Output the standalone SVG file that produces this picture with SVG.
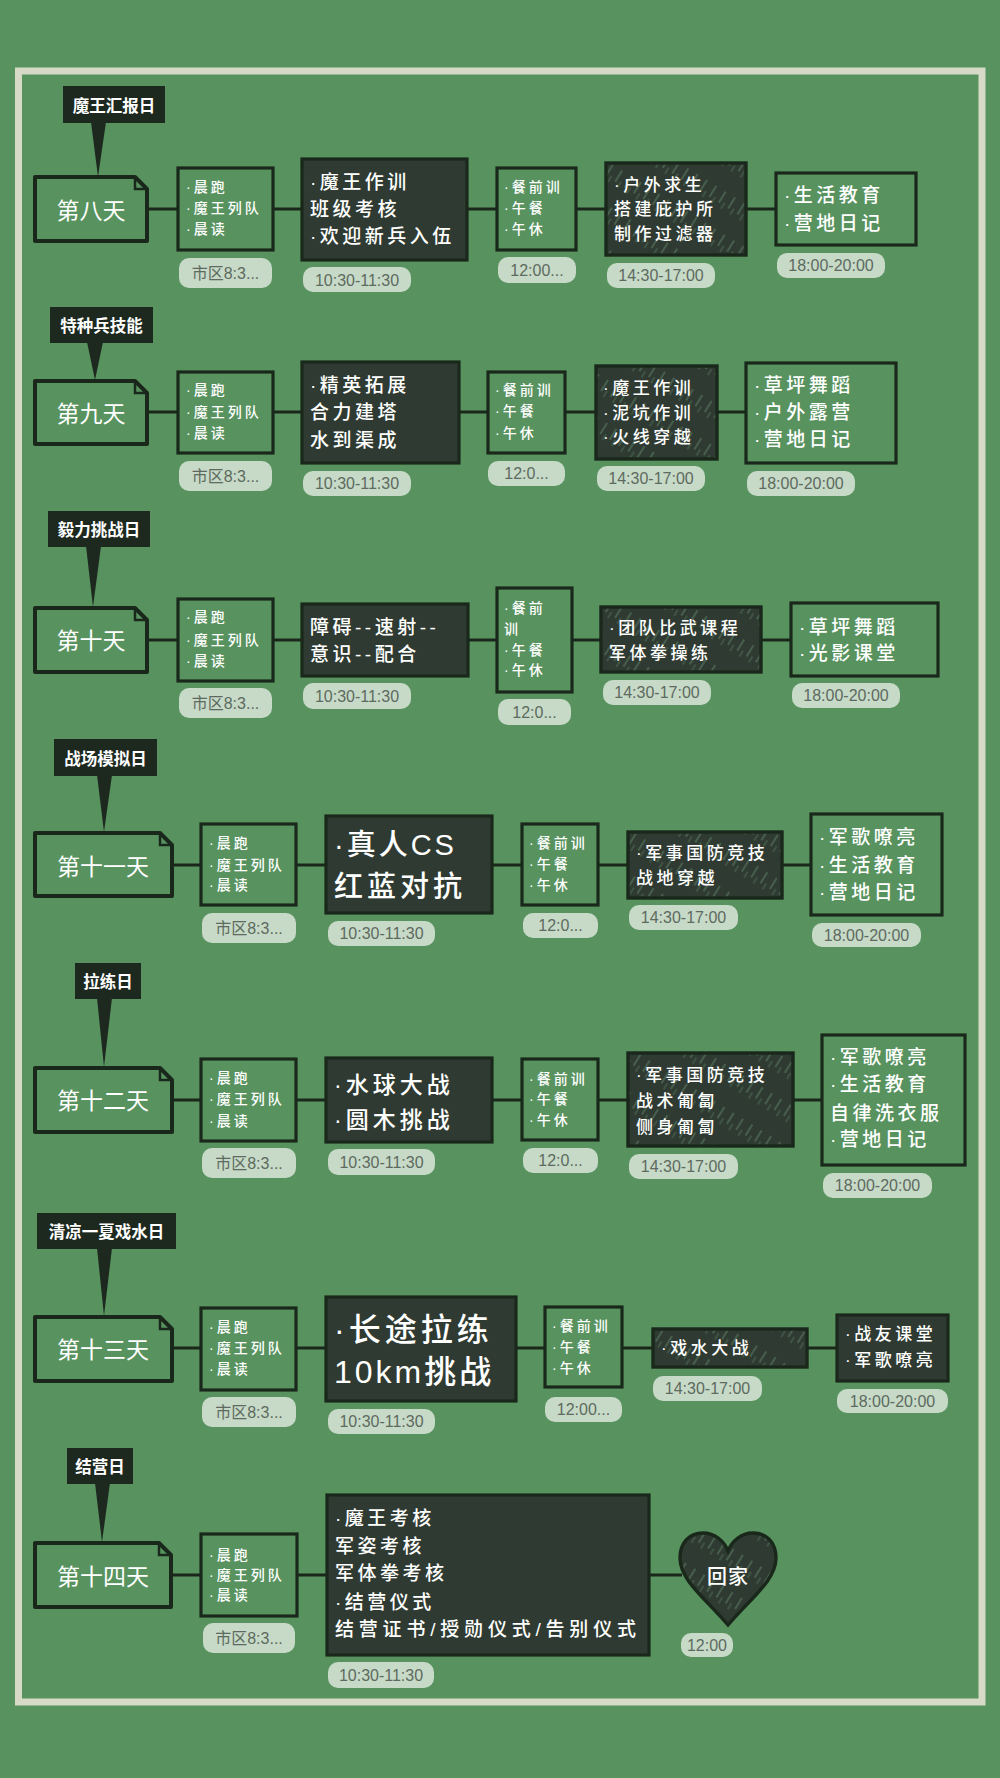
<svg xmlns="http://www.w3.org/2000/svg" width="1000" height="1778" viewBox="0 0 1000 1778">
<defs>
<pattern id="hatch" patternUnits="userSpaceOnUse" width="11" height="37" patternTransform="rotate(32)">
<line x1="2" y1="0" x2="2" y2="37" stroke="#7fb088" stroke-width="1" stroke-dasharray="13 24" opacity="0.6"/>
<line x1="7" y1="10" x2="7" y2="37" stroke="#7fb088" stroke-width="0.9" stroke-dasharray="7 30" opacity="0.45"/>
</pattern>
<style>
.bg{fill:#58935f}
.frame{fill:none;stroke:#d6dac6;stroke-width:7}
.lbl{fill:#1d291f}
.lt{font-family:"Noto Sans CJK SC","Noto Sans",sans-serif;font-weight:bold;font-size:16.5px;fill:#ffffff;text-anchor:middle;dominant-baseline:central}
.day{fill:#58935f;stroke:#1a281c;stroke-width:4;stroke-linejoin:round}
.fold{fill:none;stroke:#1a281c;stroke-width:2.5}
.dt{font-family:"Noto Sans CJK SC","Noto Sans",sans-serif;font-size:23px;fill:#ffffff;text-anchor:middle;dominant-baseline:central}
.lb{fill:#58935f;stroke:#1a281c;stroke-width:3.2}
.db{fill:#2f3b32;stroke:#1a281c;stroke-width:3.2}
.hb{fill:url(#hatch);stroke:#1a281c;stroke-width:3.4}
.hf{fill:#2f3b32}
.t{font-family:"Liberation Sans","Noto Sans CJK SC",sans-serif;fill:#ffffff;dominant-baseline:central;font-weight:500}
.s{font-size:14px;letter-spacing:3px}
.m{font-size:17px;letter-spacing:3.5px}
.n{font-size:19px;letter-spacing:3.5px}
.pill{fill:#c6dac7}
.pt{font-family:"Liberation Sans","Noto Sans CJK SC",sans-serif;font-size:16px;fill:#5e6a5f;text-anchor:middle;dominant-baseline:central}
.cn{stroke:#1a281c;stroke-width:3;fill:none}
</style>
</defs>
<rect class="bg" x="0" y="0" width="1000" height="1778"/>
<rect class="frame" x="18.5" y="71" width="963.5" height="1631"/>

<g id="connectors">
<path class="cn" d="M147,209H178M273,209H302M467,209H497M576,209H606M746,209H776"/>
<path class="cn" d="M147,412H178M273,412H302M459,412H488M565,412H596M717,412H746"/>
<path class="cn" d="M147,640H178M273,640H302M468,640H497M572,640H601M761,640H791"/>
<path class="cn" d="M172,865H201M296,865H326M492,865H522M598,865H628M782,865H811"/>
<path class="cn" d="M172,1100H201M296,1100H326M492,1100H522M598,1100H628M793,1100H822"/>
<path class="cn" d="M172,1348H201M296,1348H326M516,1348H545M622,1348H653M807,1348H837"/>
<path class="cn" d="M171,1575H201M297,1575H327M649,1575H682"/>
</g>

<!-- Row 1: 第八天 -->
<g id="label8"><rect class="lbl" x="63" y="86" width="102" height="37"/><polygon class="lbl" points="91,122 106,122 98,177"/><text class="lt" x="114" y="105">魔王汇报日</text></g>
<g id="day8"><path class="day" d="M35,177H135L147,189V241H35Z"/><path class="fold" d="M135,177V189H147"/><text class="dt" x="91" y="209">第八天</text></g>
<g id="d8b1"><rect class="lb" x="178" y="168" width="95" height="82"/><text class="t s" x="186" y="187">·晨跑</text><text class="t s" x="186" y="208">·魔王列队</text><text class="t s" x="186" y="229">·晨读</text>
<rect class="pill" x="179" y="258" width="93" height="30" rx="10"/><text class="pt" x="225.5" y="273">市区8:3...</text></g>
<g id="d8b2"><rect class="db" x="302" y="159" width="165" height="101"/><text class="t n" x="310" y="182">·魔王作训</text><text class="t n" x="310" y="209">班级考核</text><text class="t n" x="310" y="236">·欢迎新兵入伍</text>
<rect class="pill" x="303" y="267" width="108" height="25" rx="10"/><text class="pt" x="357" y="280">10:30-11:30</text></g>
<g id="d8b3"><rect class="lb" x="497" y="168" width="79" height="82"/><text class="t s" x="504" y="187">·餐前训</text><text class="t s" x="504" y="208">·午餐</text><text class="t s" x="504" y="229">·午休</text>
<rect class="pill" x="498" y="257" width="78" height="26" rx="10"/><text class="pt" x="537" y="270">12:00...</text></g>
<g id="d8b4"><rect class="hf" x="606" y="163" width="140" height="92"/><rect class="hb" x="606" y="163" width="140" height="92"/><text class="t m" x="614" y="185">·户外求生</text><text class="t m" x="614" y="209">搭建庇护所</text><text class="t m" x="614" y="234">制作过滤器</text>
<rect class="pill" x="607" y="263" width="108" height="25" rx="10"/><text class="pt" x="661" y="275.5">14:30-17:00</text></g>
<g id="d8b5"><rect class="lb" x="776" y="173" width="140" height="72"/><text class="t n" x="784" y="195">·生活教育</text><text class="t n" x="784" y="223">·营地日记</text>
<rect class="pill" x="777" y="253" width="108" height="25" rx="10"/><text class="pt" x="831" y="265.5">18:00-20:00</text></g>

<!-- Row 2: 第九天 -->
<g id="label9"><rect class="lbl" x="50" y="307" width="103" height="36"/><polygon class="lbl" points="87,342 103,342 95,380"/><text class="lt" x="101.5" y="325">特种兵技能</text></g>
<g id="day9"><path class="day" d="M35,381H135L147,393V444H35Z"/><path class="fold" d="M135,381V393H147"/><text class="dt" x="91" y="412">第九天</text></g>
<g id="d9b1"><rect class="lb" x="178" y="372" width="95" height="81"/><text class="t s" x="186" y="390">·晨跑</text><text class="t s" x="186" y="412">·魔王列队</text><text class="t s" x="186" y="433">·晨读</text>
<rect class="pill" x="179" y="461" width="93" height="30" rx="10"/><text class="pt" x="225.5" y="476">市区8:3...</text></g>
<g id="d9b2"><rect class="db" x="302" y="362" width="157" height="101"/><text class="t n" x="310" y="385">·精英拓展</text><text class="t n" x="310" y="412">合力建塔</text><text class="t n" x="310" y="440">水到渠成</text>
<rect class="pill" x="303" y="471" width="108" height="25" rx="10"/><text class="pt" x="357" y="483.5">10:30-11:30</text></g>
<g id="d9b3"><rect class="lb" x="488" y="372" width="77" height="81"/><text class="t s" x="495" y="390">·餐前训</text><text class="t s" x="495" y="411">·午餐</text><text class="t s" x="495" y="433">·午休</text>
<rect class="pill" x="488" y="461" width="77" height="25" rx="10"/><text class="pt" x="526.5" y="473.5">12:0...</text></g>
<g id="d9b4"><rect class="hf" x="596" y="366" width="121" height="93"/><rect class="hb" x="596" y="366" width="121" height="93"/><text class="t m" x="603" y="388">·魔王作训</text><text class="t m" x="603" y="413">·泥坑作训</text><text class="t m" x="603" y="437">·火线穿越</text>
<rect class="pill" x="597" y="466" width="108" height="25" rx="10"/><text class="pt" x="651" y="478.5">14:30-17:00</text></g>
<g id="d9b5"><rect class="lb" x="746" y="363" width="150" height="100"/><text class="t n" x="754" y="385">·草坪舞蹈</text><text class="t n" x="754" y="412">·户外露营</text><text class="t n" x="754" y="439">·营地日记</text>
<rect class="pill" x="747" y="471" width="108" height="25" rx="10"/><text class="pt" x="801" y="483.5">18:00-20:00</text></g>

<!-- Row 3: 第十天 -->
<g id="label10"><rect class="lbl" x="48" y="511" width="102" height="36"/><polygon class="lbl" points="86,546 101,546 93,607"/><text class="lt" x="99" y="529">毅力挑战日</text></g>
<g id="day10"><path class="day" d="M35,608H135L147,620V672H35Z"/><path class="fold" d="M135,608V620H147"/><text class="dt" x="91" y="639">第十天</text></g>
<g id="d10b1"><rect class="lb" x="178" y="599" width="95" height="82"/><text class="t s" x="186" y="617">·晨跑</text><text class="t s" x="186" y="640">·魔王列队</text><text class="t s" x="186" y="661">·晨读</text>
<rect class="pill" x="179" y="688" width="93" height="30" rx="10"/><text class="pt" x="225.5" y="703">市区8:3...</text></g>
<g id="d10b2"><rect class="db" x="302" y="604" width="166" height="72"/><text class="t n" x="310" y="627">障碍--速射--</text><text class="t n" x="310" y="654">意识--配合</text>
<rect class="pill" x="303" y="683" width="108" height="26" rx="10"/><text class="pt" x="357" y="696">10:30-11:30</text></g>
<g id="d10b3"><rect class="lb" x="497" y="588" width="75" height="104"/><text class="t s" x="504" y="608">·餐前</text><text class="t s" x="504" y="629">训</text><text class="t s" x="504" y="650">·午餐</text><text class="t s" x="504" y="670">·午休</text>
<rect class="pill" x="498" y="699" width="73" height="26" rx="10"/><text class="pt" x="534.5" y="712">12:0...</text></g>
<g id="d10b4"><rect class="hf" x="601" y="607" width="160" height="65"/><rect class="hb" x="601" y="607" width="160" height="65"/><text class="t m" x="609" y="628">·团队比武课程</text><text class="t m" x="609" y="653">军体拳操练</text>
<rect class="pill" x="603" y="680" width="108" height="25" rx="10"/><text class="pt" x="657" y="692.5">14:30-17:00</text></g>
<g id="d10b5"><rect class="lb" x="791" y="603" width="147" height="73"/><text class="t n" x="799" y="627">·草坪舞蹈</text><text class="t n" x="799" y="653">·光影课堂</text>
<rect class="pill" x="792" y="683" width="108" height="25" rx="10"/><text class="pt" x="846" y="695.5">18:00-20:00</text></g>

<!-- Row 4: 第十一天 -->
<g id="label11"><rect class="lbl" x="54" y="739" width="103" height="37"/><polygon class="lbl" points="97,775 112,775 104,832"/><text class="lt" x="105.5" y="757.5">战场模拟日</text></g>
<g id="day11"><path class="day" d="M35,833H160L172,845V896H35Z"/><path class="fold" d="M160,833V845H172"/><text class="dt" x="103" y="865">第十一天</text></g>
<g id="d11b1"><rect class="lb" x="201" y="824" width="95" height="81"/><text class="t s" x="209" y="843">·晨跑</text><text class="t s" x="209" y="865">·魔王列队</text><text class="t s" x="209" y="885">·晨读</text>
<rect class="pill" x="202" y="913" width="94" height="30" rx="10"/><text class="pt" x="249" y="928">市区8:3...</text></g>
<g id="d11b2"><rect class="db" x="326" y="816" width="166" height="97"/><text class="t" x="334" y="845" style="font-size:29px;letter-spacing:3px">·真人CS</text><text class="t" x="334" y="887" style="font-size:29px;letter-spacing:4px">红蓝对抗</text>
<rect class="pill" x="328" y="921" width="107" height="25" rx="10"/><text class="pt" x="381.5" y="933.5">10:30-11:30</text></g>
<g id="d11b3"><rect class="lb" x="522" y="824" width="76" height="81"/><text class="t s" x="529" y="843">·餐前训</text><text class="t s" x="529" y="864">·午餐</text><text class="t s" x="529" y="885">·午休</text>
<rect class="pill" x="523" y="913" width="75" height="25" rx="10"/><text class="pt" x="560.5" y="925.5">12:0...</text></g>
<g id="d11b4"><rect class="hf" x="628" y="832" width="154" height="66"/><rect class="hb" x="628" y="832" width="154" height="66"/><text class="t m" x="636" y="853">·军事国防竞技</text><text class="t m" x="636" y="878">战地穿越</text>
<rect class="pill" x="629" y="905" width="109" height="25" rx="10"/><text class="pt" x="683.5" y="917.5">14:30-17:00</text></g>
<g id="d11b5"><rect class="lb" x="811" y="814" width="131" height="101"/><text class="t n" x="819" y="837">·军歌嘹亮</text><text class="t n" x="819" y="865">·生活教育</text><text class="t n" x="819" y="892">·营地日记</text>
<rect class="pill" x="812" y="923" width="109" height="24" rx="10"/><text class="pt" x="866.5" y="935">18:00-20:00</text></g>

<!-- Row 5: 第十二天 -->
<g id="label12"><rect class="lbl" x="75" y="963" width="66" height="36"/><polygon class="lbl" points="97,998 112,998 104,1067"/><text class="lt" x="108" y="981">拉练日</text></g>
<g id="day12"><path class="day" d="M35,1068H160L172,1080V1132H35Z"/><path class="fold" d="M160,1068V1080H172"/><text class="dt" x="103" y="1099">第十二天</text></g>
<g id="d12b1"><rect class="lb" x="201" y="1059" width="95" height="82"/><text class="t s" x="209" y="1078">·晨跑</text><text class="t s" x="209" y="1099">·魔王列队</text><text class="t s" x="209" y="1121">·晨读</text>
<rect class="pill" x="202" y="1148" width="94" height="30" rx="10"/><text class="pt" x="249" y="1163">市区8:3...</text></g>
<g id="d12b2"><rect class="db" x="326" y="1058" width="166" height="84"/><text class="t" x="334" y="1085" style="font-size:23px;letter-spacing:4px">·水球大战</text><text class="t" x="334" y="1120" style="font-size:23px;letter-spacing:4px">·圆木挑战</text>
<rect class="pill" x="328" y="1149" width="107" height="26" rx="10"/><text class="pt" x="381.5" y="1162">10:30-11:30</text></g>
<g id="d12b3"><rect class="lb" x="522" y="1059" width="76" height="81"/><text class="t s" x="529" y="1079">·餐前训</text><text class="t s" x="529" y="1099">·午餐</text><text class="t s" x="529" y="1120">·午休</text>
<rect class="pill" x="523" y="1148" width="75" height="25" rx="10"/><text class="pt" x="560.5" y="1160.5">12:0...</text></g>
<g id="d12b4"><rect class="hf" x="628" y="1053" width="165" height="93"/><rect class="hb" x="628" y="1053" width="165" height="93"/><text class="t m" x="636" y="1075">·军事国防竞技</text><text class="t m" x="636" y="1101">战术匍匐</text><text class="t m" x="636" y="1127">侧身匍匐</text>
<rect class="pill" x="629" y="1154" width="109" height="25" rx="10"/><text class="pt" x="683.5" y="1166.5">14:30-17:00</text></g>
<g id="d12b5"><rect class="lb" x="822" y="1035" width="143" height="130"/><text class="t n" x="830" y="1057">·军歌嘹亮</text><text class="t n" x="830" y="1084">·生活教育</text><text class="t n" x="830" y="1113">自律洗衣服</text><text class="t n" x="830" y="1139">·营地日记</text>
<rect class="pill" x="823" y="1173" width="109" height="25" rx="10"/><text class="pt" x="877.5" y="1185.5">18:00-20:00</text></g>

<!-- Row 6: 第十三天 -->
<g id="label13"><rect class="lbl" x="37" y="1213" width="139" height="36"/><polygon class="lbl" points="97,1248 112,1248 104,1316"/><text class="lt" x="106.5" y="1231">清凉一夏戏水日</text></g>
<g id="day13"><path class="day" d="M35,1317H160L172,1329V1381H35Z"/><path class="fold" d="M160,1317V1329H172"/><text class="dt" x="103" y="1348">第十三天</text></g>
<g id="d13b1"><rect class="lb" x="201" y="1308" width="95" height="82"/><text class="t s" x="209" y="1327">·晨跑</text><text class="t s" x="209" y="1348">·魔王列队</text><text class="t s" x="209" y="1369">·晨读</text>
<rect class="pill" x="202" y="1397" width="94" height="30" rx="10"/><text class="pt" x="249" y="1412">市区8:3...</text></g>
<g id="d13b2"><rect class="db" x="326" y="1297" width="190" height="104"/><text class="t" x="334" y="1330" style="font-size:32px;letter-spacing:4px">·长途拉练</text><text class="t" x="334" y="1372" style="font-size:32px;letter-spacing:3px">10km挑战</text>
<rect class="pill" x="328" y="1409" width="107" height="25" rx="10"/><text class="pt" x="381.5" y="1421.5">10:30-11:30</text></g>
<g id="d13b3"><rect class="lb" x="545" y="1307" width="77" height="80"/><text class="t s" x="552" y="1326">·餐前训</text><text class="t s" x="552" y="1347">·午餐</text><text class="t s" x="552" y="1368">·午休</text>
<rect class="pill" x="545" y="1397" width="77" height="25" rx="10"/><text class="pt" x="583.5" y="1409.5">12:00...</text></g>
<g id="d13b4"><rect class="hf" x="653" y="1329" width="154" height="38"/><rect class="hb" x="653" y="1329" width="154" height="38"/><text class="t m" x="661" y="1348">·戏水大战</text>
<rect class="pill" x="653" y="1376" width="109" height="25" rx="10"/><text class="pt" x="707.5" y="1388.5">14:30-17:00</text></g>
<g id="d13b5"><rect class="db" x="837" y="1315" width="111" height="66"/><text class="t m" x="845" y="1334">·战友课堂</text><text class="t m" x="845" y="1360">·军歌嘹亮</text>
<rect class="pill" x="837" y="1389" width="111" height="24" rx="10"/><text class="pt" x="892.5" y="1401">18:00-20:00</text></g>

<!-- Row 7: 第十四天 -->
<g id="label14"><rect class="lbl" x="67" y="1448" width="66" height="36"/><polygon class="lbl" points="95,1483 110,1483 102,1542"/><text class="lt" x="100" y="1466">结营日</text></g>
<g id="day14"><path class="day" d="M35,1543H159L171,1555V1607H35Z"/><path class="fold" d="M159,1543V1555H171"/><text class="dt" x="103" y="1575">第十四天</text></g>
<g id="d14b1"><rect class="lb" x="201" y="1534" width="96" height="82"/><text class="t s" x="209" y="1555">·晨跑</text><text class="t s" x="209" y="1575">·魔王列队</text><text class="t s" x="209" y="1595">·晨读</text>
<rect class="pill" x="203" y="1623" width="92" height="30" rx="10"/><text class="pt" x="249" y="1638">市区8:3...</text></g>
<g id="d14b2"><rect class="db" x="327" y="1495" width="322" height="160"/><text class="t n" x="335" y="1518">·魔王考核</text><text class="t n" x="335" y="1546">军姿考核</text><text class="t n" x="335" y="1573">军体拳考核</text><text class="t n" x="335" y="1602">·结营仪式</text><text class="t n" x="335" y="1629" style="letter-spacing:4.8px">结营证书/授勋仪式/告别仪式</text>
<rect class="pill" x="328" y="1662" width="106" height="26" rx="10"/><text class="pt" x="381" y="1675">10:30-11:30</text></g>
<g id="home"><path class="hf" d="M728,1625C705,1598 680,1580 680,1558C680,1542 690,1533 703,1533C715,1533 724,1541 728,1551C732,1541 741,1533 753,1533C766,1533 776,1542 776,1558C776,1580 751,1598 728,1625Z"/><path class="hb" d="M728,1625C705,1598 680,1580 680,1558C680,1542 690,1533 703,1533C715,1533 724,1541 728,1551C732,1541 741,1533 753,1533C766,1533 776,1542 776,1558C776,1580 751,1598 728,1625Z"/><text class="t" x="728" y="1577" style="font-size:20px;text-anchor:middle;letter-spacing:1px">回家</text>
<rect class="pill" x="681" y="1633" width="52" height="24" rx="10"/><text class="pt" x="707" y="1645">12:00</text></g>
</svg>
